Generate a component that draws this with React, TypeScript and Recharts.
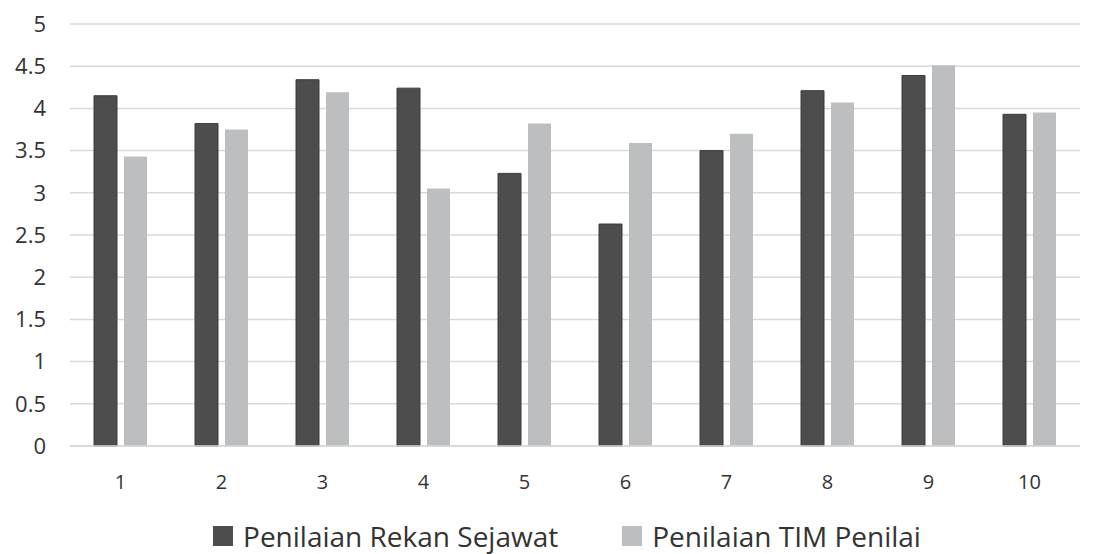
import { BarChart, Bar, XAxis, YAxis, CartesianGrid, Legend } from "recharts";

const categories = ["1", "2", "3", "4", "5", "6", "7", "8", "9", "10"];
const rekanSejawat = [4.15, 3.82, 4.34, 4.24, 3.23, 2.63, 3.5, 4.21, 4.39, 3.93];
const timPenilai = [3.43, 3.75, 4.19, 3.05, 3.82, 3.59, 3.7, 4.07, 4.51, 3.95];
const yTicks = [0, 0.5, 1, 1.5, 2, 2.5, 3, 3.5, 4, 4.5, 5];

const data = categories.map((c, i) => ({
  name: c,
  rekan: rekanSejawat[i],
  tim: timPenilai[i],
}));

const FONT = "'Open Sans', 'Noto Sans', sans-serif";
const TEXT = "#333333";

function LegendBox(props: any) {
  const items = props.payload || [];
  return (
    <div
      style={{
        display: "flex",
        justifyContent: "center",
        gap: 64,
        fontFamily: FONT,
        paddingTop: 16,
        paddingLeft: 54,
      }}
    >
      {items.map((it: any) => (
        <div key={it.value} style={{ display: "flex", alignItems: "center", height: 32 }}>
          <span style={{ width: 20, height: 20, background: it.color, marginRight: 10, display: "inline-block" }} />
          <span style={{ fontSize: 28, color: TEXT, lineHeight: "32px" }}>{it.value}</span>
        </div>
      ))}
    </div>
  );
}

export default function App() {
  return (
    <div style={{ position: "absolute", left: 0, top: 0, background: "#fff" }}>
      <BarChart
        width={1093}
        height={554}
        data={data}
        margin={{ top: 24, right: 13, bottom: 0, left: 0 }}
        barCategoryGap={24}
        barGap={7}
      >
        <CartesianGrid vertical={false} stroke="#d9d9d9" strokeWidth={1.5} />
        <XAxis
          dataKey="name"
          axisLine={{ stroke: "#d9d9d9", strokeWidth: 1.5 }}
          tickLine={false}
          tickSize={0}
          tickMargin={29}
          height={58}
          tick={{ fill: TEXT, fontSize: 20, fontFamily: FONT }}
        />
        <YAxis
          domain={[0, 5]}
          ticks={yTicks}
          axisLine={false}
          tickLine={false}
          tickSize={0}
          tickMargin={24}
          width={70}
          tick={{ fill: TEXT, fontSize: 22, fontFamily: FONT }}
        />
        <Legend verticalAlign="bottom" height={50} content={<LegendBox />} />
        <Bar dataKey="rekan" name="Penilaian Rekan Sejawat" fill="#4d4d4d" stroke="#3d3d3d" strokeWidth={1} isAnimationActive={false} />
        <Bar dataKey="tim" name="Penilaian TIM Penilai" fill="#bdbec0" isAnimationActive={false} />
      </BarChart>
    </div>
  );
}
